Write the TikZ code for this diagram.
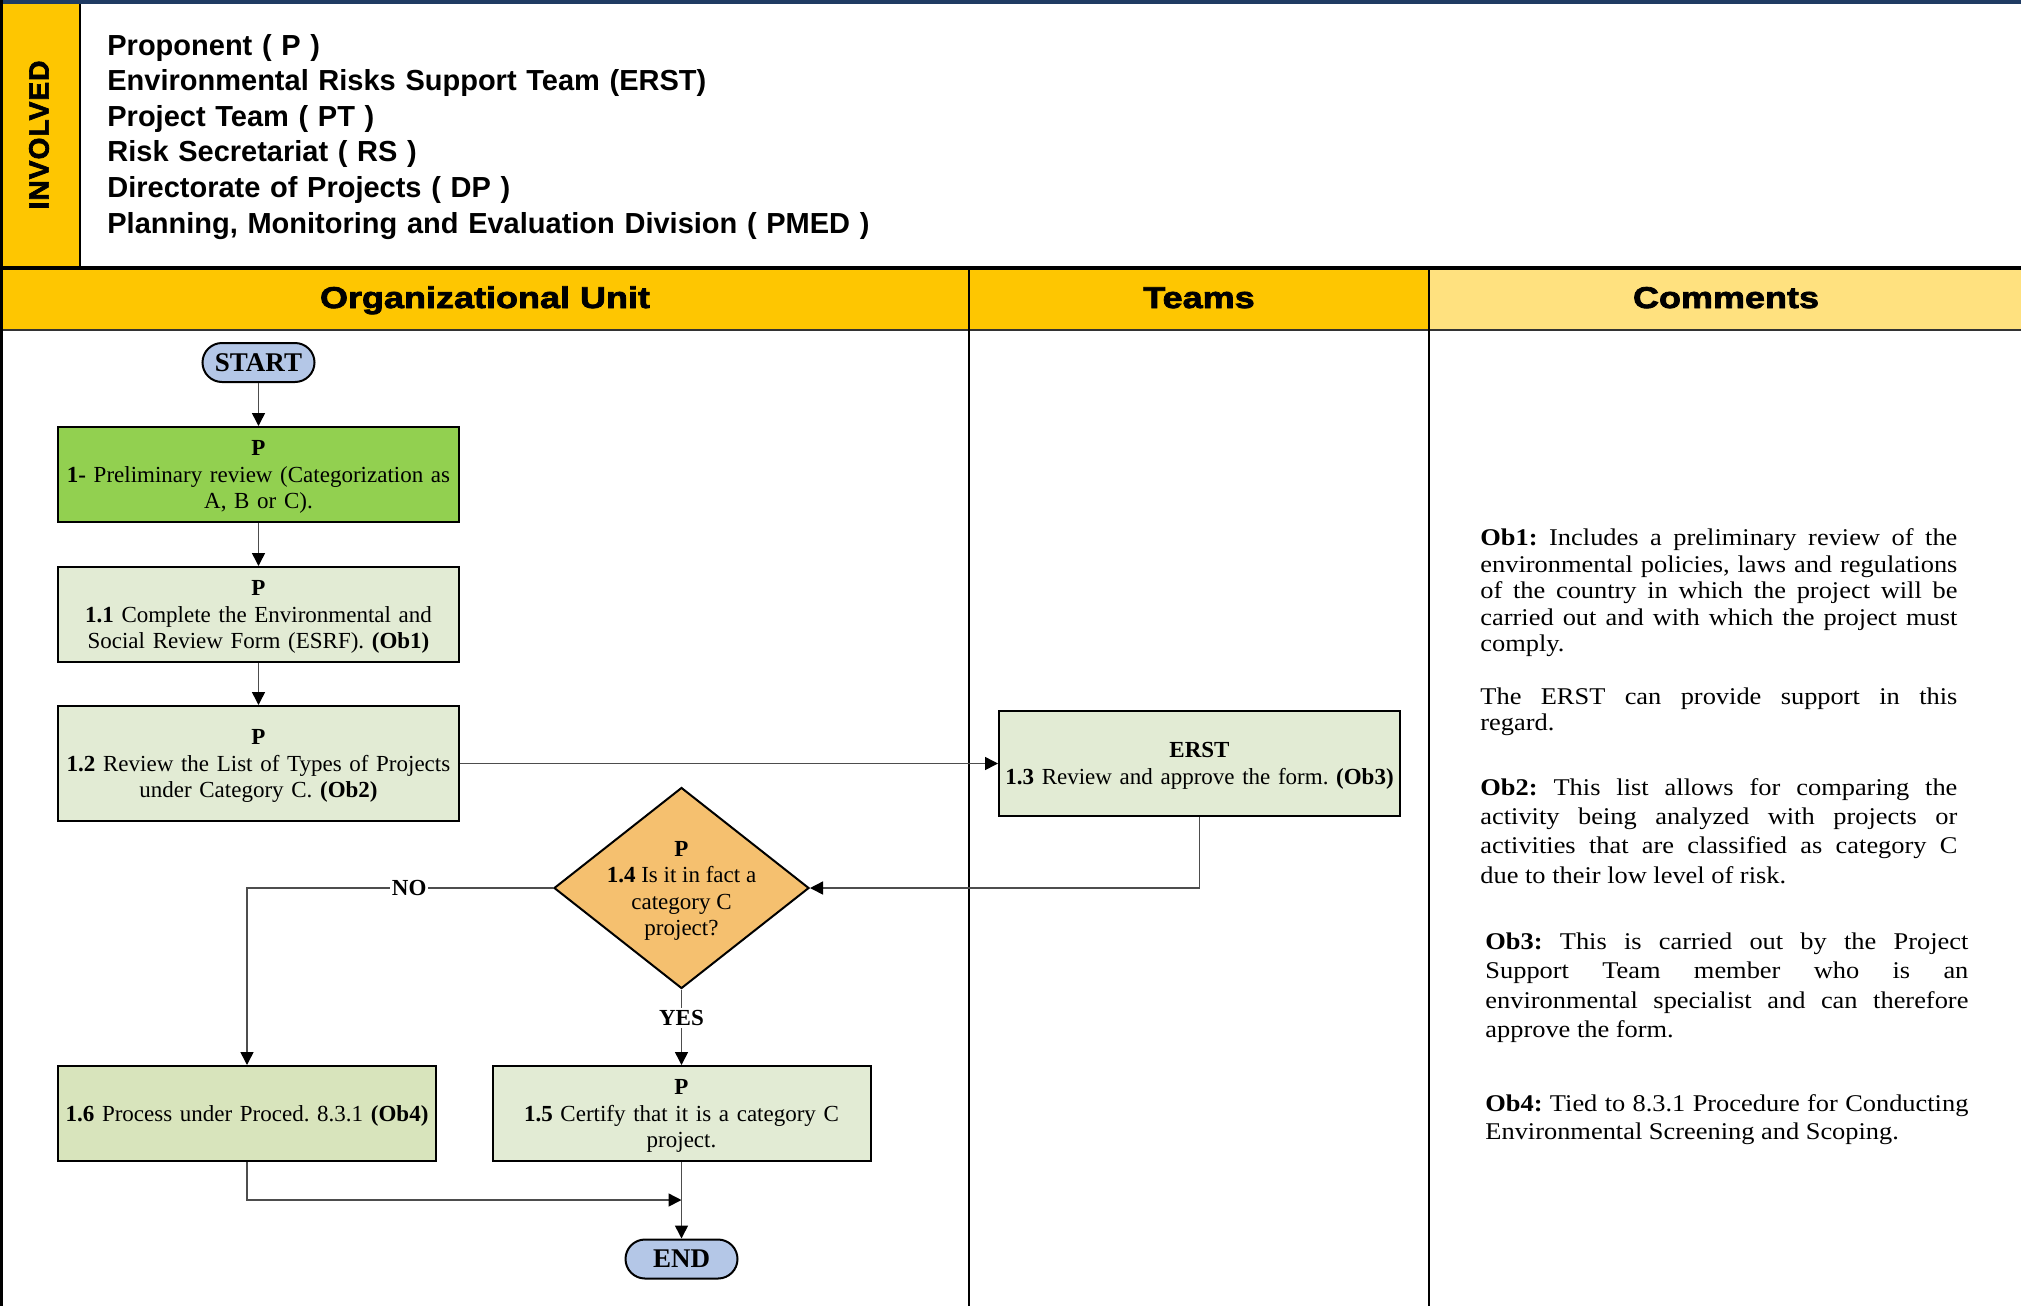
\documentclass[tikz,border=0pt]{standalone}
\usepackage{fontspec}
\setmainfont{Liberation Serif}
\setsansfont{Liberation Sans}
\newfontfamily\heavyfont{Liberation Sans}[FakeStretch=1.2,BoldFeatures={FakeBold=2.5}]
\newfontfamily\tagfont{Liberation Sans}[LetterSpace=4,BoldFeatures={FakeBold=2.5}]
\newfontfamily\notefont{Liberation Serif}[FakeStretch=1.1]
\usetikzlibrary{shapes.geometric,arrows.meta}

\definecolor{navy}{HTML}{1F3B63}
\definecolor{gold}{HTML}{FEC601}
\definecolor{paleGold}{HTML}{FFE17F}
\definecolor{leafGreen}{HTML}{92D050}
\definecolor{paleGreen}{HTML}{E2EBD4}
\definecolor{sageGreen}{HTML}{D8E4BC}
\definecolor{apricot}{HTML}{F5C06F}
\definecolor{skyBlue}{HTML}{B4C7E7}
\definecolor{wireGrey}{HTML}{4D4D4D}

\begin{document}
\frenchspacing
\begin{tikzpicture}[x=0.5pt,y=-0.5pt,
  rule/.style={line width=1pt,black},
  colhead/.style={anchor=base,inner sep=0pt,font=\heavyfont\bfseries\fontsize{15}{18}\selectfont},
  stepbox/.style={draw,line width=1pt,fill=paleGreen,text width=196.5pt,inner xsep=2pt,inner ysep=0pt,
    text height=10.1pt,minimum height=47.5pt,align=center,font=\fontsize{11.5}{13.2}\selectfont},
  terminal/.style={draw,line width=1pt,fill=skyBlue,rounded corners=9.75pt,minimum width=56pt,
    minimum height=19.5pt,inner sep=0pt,font=\bfseries\fontsize{13.5}{14}\selectfont},
  decision/.style={diamond,draw,line width=1pt,fill=apricot,minimum width=127.5pt,minimum height=100.5pt,inner sep=0pt},
  flow/.style={draw=wireGrey,line width=0.75pt,-{Triangle[length=6.5pt,width=6.5pt,color=black]}},
  lbl/.style={fill=white,inner sep=1pt,font=\bfseries\fontsize{11.5}{13}\selectfont},
  notepar/.style={anchor=base west,inner sep=0pt,align=justify,font=\notefont\fontsize{12}{13.3}\selectfont}
]
\useasboundingbox (0,0) rectangle (2021,1306);

% header band and column headings
\fill[gold] (0,0) rectangle (80,268);
\fill[gold] (0,268) rectangle (1429,330);
\fill[paleGold] (1429,268) rectangle (2021,330);
\fill[navy] (0,0) rectangle (2021,4);
\draw[rule] (80,4) -- (80,268);
\draw[line width=1.6pt] (0,268) -- (2021,268);
\draw[line width=1.2pt,black!80] (0,330) -- (2021,330);
\draw[rule] (969,268) -- (969,1306);
\draw[rule] (1429,268) -- (1429,1306);
\draw[line width=1.5pt] (1.5,0) -- (1.5,1306);

\node[rotate=90,font=\tagfont\bfseries\fontsize{14}{14}\selectfont] (involved) at (39,135) {INVOLVED};
\node[anchor=base west,inner sep=0pt,text width=700pt,align=left,font=\sffamily\bfseries\fontsize{14.5}{17.8}\selectfont] (roles) at (107,55)
  {Proponent ( P )\\Environmental Risks Support Team (ERST)\\Project Team ( PT )\\Risk Secretariat ( RS )\\Directorate of Projects ( DP )\\Planning, Monitoring and Evaluation Division ( PMED )};

\node[colhead] (hOrg) at (485,308) {Organizational Unit};
\node[colhead] (hTeams) at (1199,308) {Teams};
\node[colhead] (hComm) at (1726,308) {Comments};

% process steps
\node[terminal] (start) at (258.5,362.5) {START};
\node[stepbox,fill=leafGreen] (b1) at (258.5,474.5)
  {\textbf{P}\\\textbf{1-} Preliminary review (Categorization as\\A, B or C).};
\node[stepbox] (b11) at (258.5,614.5)
  {\textbf{P}\\\textbf{1.1} Complete the Environmental and\\Social Review Form (ESRF). \textbf{(Ob1)}};
\node[stepbox,minimum height=57.5pt] (b12) at (258.5,763.5)
  {\textbf{P}\\\textbf{1.2} Review the List of Types of Projects\\under Category C. \textbf{(Ob2)}};
\node[stepbox,minimum height=52.5pt] (b13) at (1199.5,763.5)
  {\textbf{ERST}\\\textbf{1.3} Review and approve the form. \textbf{(Ob3)}};
\node[decision] (d14) at (681.5,888) {};
\node[align=center,inner sep=0pt,font=\fontsize{11.5}{13.2}\selectfont] (d14text) at (681.5,891)
  {\textbf{P}\\\textbf{1.4} Is it in fact a\\category C\\project?};
\node[stepbox,text width=185pt,fill=sageGreen] (b16) at (247,1113.5)
  {\textbf{1.6} Process under Proced. 8.3.1 \textbf{(Ob4)}};
\node[stepbox,text width=185pt] (b15) at (681.5,1113.5)
  {\textbf{P}\\\textbf{1.5} Certify that it is a category C\\project.};
\node[terminal] (finish) at (681.5,1259) {END};
\coordinate (merge) at (681.5,1200);

% connectors
\draw[flow] (start) -- (b1);
\draw[flow] (b1) -- (b11);
\draw[flow] (b11) -- (b12);
\draw[flow] (b12.east) -- (b13.west);
\draw[flow] (b13.south) |- (d14.east);
\draw[flow] (d14.west) -| node[lbl,pos=0.235] (noLbl) {NO} (b16.north);
\draw[flow] (d14.south) -- node[lbl,pos=0.38] (yesLbl) {YES} (b15.north);
\draw[flow] (b16.south) |- (merge);
\draw[flow] (b15.south) -- (finish.north);

% notes
\node[notepar,text width=238.5pt] (ob1) at (1480,545.5)
  {\textbf{Ob1:} Includes a preliminary review of the\linebreak environmental policies, laws and regulations\linebreak of the country in which the project will be\linebreak carried out and with which the project must\linebreak comply.};
\node[notepar,text width=238.5pt] (ob1b) at (1480,704)
  {The ERST can provide support in this\linebreak regard.};
\node[notepar,text width=238.5pt,font=\notefont\fontsize{12}{14.6}\selectfont] (ob2) at (1480,795.5)
  {\textbf{Ob2:} This list allows for comparing the\linebreak activity being analyzed with projects or\linebreak activities that are classified as category C\linebreak due to their low level of risk.};
\node[notepar,text width=241.5pt,font=\notefont\fontsize{12}{14.8}\selectfont] (ob3) at (1485,949)
  {\textbf{Ob3:} This is carried out by the Project\linebreak Support Team member who is an\linebreak environmental specialist and can therefore\linebreak approve the form.};
\node[notepar,text width=241.5pt,font=\notefont\fontsize{12}{14.2}\selectfont] (ob4) at (1485,1111)
  {\textbf{Ob4:} Tied to 8.3.1 Procedure for Conducting\linebreak Environmental Screening and Scoping.};
\end{tikzpicture}
\end{document}
